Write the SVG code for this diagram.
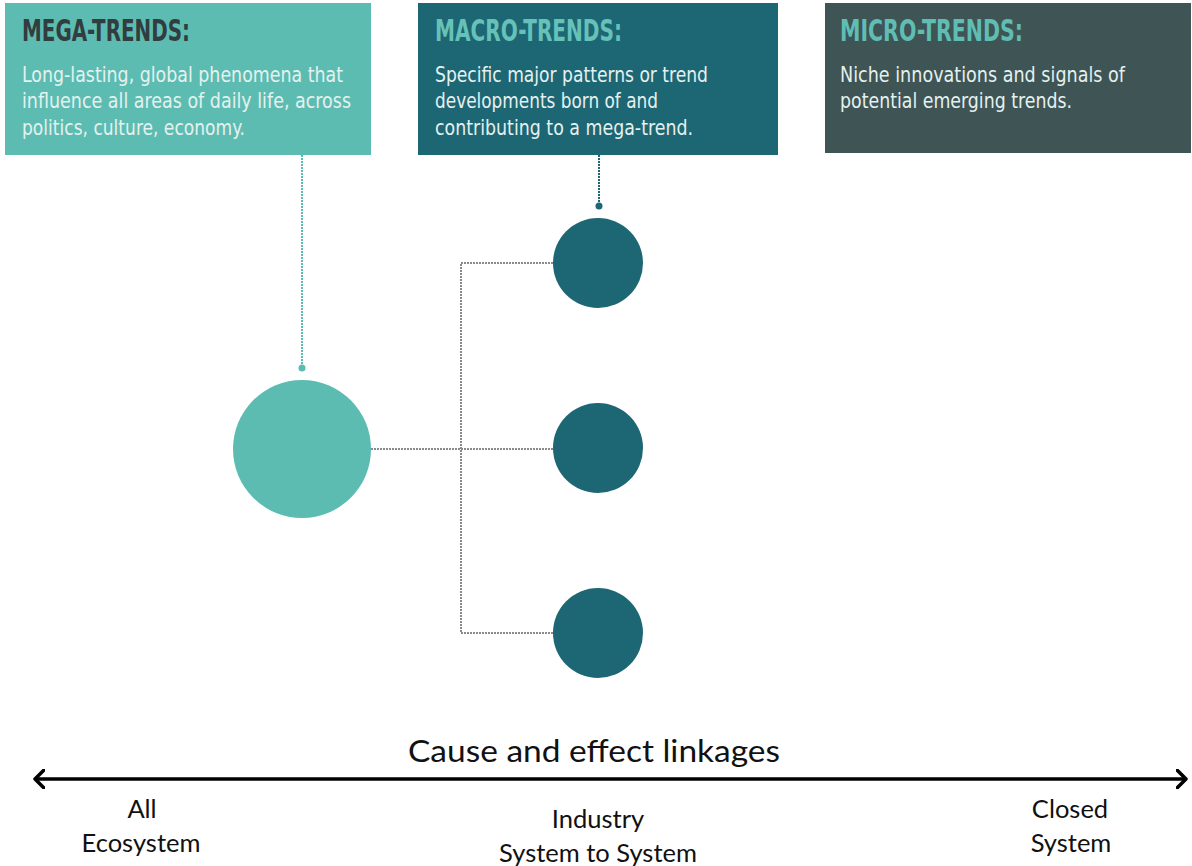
<svg xmlns="http://www.w3.org/2000/svg" width="1192" height="866" viewBox="0 0 1192 866">
  <defs>
    <style>
      .title { font-family: "DejaVu Sans Condensed", "Liberation Sans", sans-serif; font-weight: bold; font-size: 31px; }
      .body { font-family: "DejaVu Sans Condensed", "Liberation Sans", sans-serif; font-size: 21px; fill: #e4f1ef; }
      .label { font-family: "Lato", "Liberation Sans", sans-serif; font-size: 25.5px; fill: #111; text-anchor: middle; }
      .caption { font-family: "Lato", "Liberation Sans", sans-serif; font-size: 31px; fill: #111; text-anchor: middle; }
      .dot-line { fill: none; stroke-width: 2; stroke-dasharray: 2 1; }
      .link { fill: none; stroke: #8a8a8a; stroke-width: 2; stroke-dasharray: 2 1; }
    </style>
    <marker id="chev" viewBox="0 0 12 20" refX="10" refY="10" markerWidth="12" markerHeight="20" markerUnits="userSpaceOnUse" orient="auto-start-reverse">
      <path d="M1,1 L10,10 L1,19" fill="none" stroke="#000" stroke-width="3.5" stroke-linecap="round" stroke-linejoin="round"/>
    </marker>
  </defs>
  <rect width="1192" height="866" fill="#fff"/>

  <!-- header cards -->
  <g id="mega-card">
    <rect x="5" y="3" width="366" height="152" fill="#5dbcb1"/>
    <text class="title" x="22" y="41" fill="#313d3e" textLength="168" lengthAdjust="spacingAndGlyphs">MEGA-TRENDS:</text>
    <text class="body" x="22" y="82" textLength="321" lengthAdjust="spacingAndGlyphs">Long-lasting, global phenomena that</text>
    <text class="body" x="22" y="108" textLength="329" lengthAdjust="spacingAndGlyphs">influence all areas of daily life, across</text>
    <text class="body" x="22" y="135" textLength="223" lengthAdjust="spacingAndGlyphs">politics, culture, economy.</text>
  </g>
  <g id="macro-card">
    <rect x="418" y="3" width="360" height="152" fill="#1d6674"/>
    <text class="title" x="435" y="41" fill="#66c2b8" textLength="187" lengthAdjust="spacingAndGlyphs">MACRO-TRENDS:</text>
    <text class="body" x="435" y="82" textLength="273" lengthAdjust="spacingAndGlyphs">Specific major patterns or trend</text>
    <text class="body" x="435" y="108" textLength="223" lengthAdjust="spacingAndGlyphs">developments born of and</text>
    <text class="body" x="435" y="135" textLength="258" lengthAdjust="spacingAndGlyphs">contributing to a mega-trend.</text>
  </g>
  <g id="micro-card">
    <rect x="825" y="3" width="366" height="150" fill="#3e5455"/>
    <text class="title" x="840" y="41" fill="#5fbdb3" textLength="183" lengthAdjust="spacingAndGlyphs">MICRO-TRENDS:</text>
    <text class="body" x="840" y="82" textLength="285" lengthAdjust="spacingAndGlyphs">Niche innovations and signals of</text>
    <text class="body" x="840" y="108" textLength="232" lengthAdjust="spacingAndGlyphs">potential emerging trends.</text>
  </g>

  <!-- trend nodes -->
  <g id="mega-node">
    <circle cx="302" cy="449" r="69" fill="#5dbcb1"/>
  </g>
  <g id="macro-node-1">
    <circle cx="598" cy="263" r="45" fill="#1d6674"/>
  </g>
  <g id="macro-node-2">
    <circle cx="598" cy="448" r="45" fill="#1d6674"/>
  </g>
  <g id="macro-node-3">
    <circle cx="598" cy="633" r="45" fill="#1d6674"/>
  </g>

  <!-- connectors -->
  <g id="connectors">
    <line class="dot-line" x1="302" y1="155" x2="302" y2="366" stroke="#5dbcb1"/>
    <circle cx="302" cy="368" r="3.5" fill="#5dbcb1"/>
    <line class="dot-line" x1="599" y1="155" x2="599" y2="204" stroke="#1d6674"/>
    <circle cx="599" cy="206" r="3.5" fill="#1d6674"/>
    <line class="link" x1="371" y1="449" x2="553" y2="449"/>
    <polyline class="link" points="553,263 461,263 461,633 553,633"/>
  </g>

  <!-- cause and effect axis -->
  <g id="axis">
    <line x1="35" y1="779" x2="1186" y2="779" stroke="#000" stroke-width="3.5" marker-start="url(#chev)" marker-end="url(#chev)"/>
    <text class="caption" x="594" y="762" textLength="372" lengthAdjust="spacingAndGlyphs">Cause and effect linkages</text>
    <text class="label" x="142" y="818">All</text>
    <text class="label" x="141" y="852">Ecosystem</text>
    <text class="label" x="598" y="828">Industry</text>
    <text class="label" x="598" y="862">System to System</text>
    <text class="label" x="1070" y="818">Closed</text>
    <text class="label" x="1071" y="852">System</text>
  </g>
</svg>
